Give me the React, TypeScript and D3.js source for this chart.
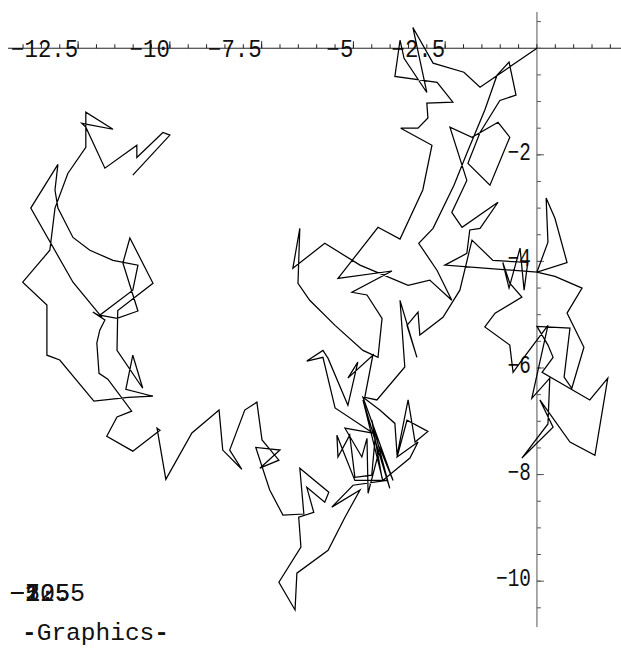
import React from "react";
import * as d3 from "d3";

// Random walk vertices (x, y), in walk order
const walkX = [
  0, -1.55, -1.99, -2.83, -3.38, -3.0, -3.62, -3.73, -3.87, -2.72,
  -2.29, -3.0, -2.97, -3.24, -3.71, -2.86, -3.11, -3.73, -4.33, -5.42,
  -3.95, -5.04, -4.63, -4.22, -4.33, -4.74, -5.5, -6.19, -6.51, -6.46,
  -6.65, -5.78, -4.82, -3.51, -2.92, -2.32, -2.72, -3.22, -2.83, -2.26,
  -1.91, -1.42, -1.09, -0.76, -0.57, -1.01, -1.55, -1.88, -1.28, -0.74,
  -1.06, -1.77, -2.37, -1.91, -2.32, -2.04, -1.06, -1.55, -1.83, -1.91,
  -2.51, 0, 0.3, 0.25, 0.49, 0.82, 0, 0.49, 1.23, 0.82,
  1.28, 0.95, 0.74, 0.9, 0, 0.3, 0.44, 0.14, 1.44, 1.93,
  1.58, 0.9, 0.08, 0.44, -0.41, 0.3, 0.35, -0.14, 0.3, -0.41,
  -0.65, -0.74, -1.42, -1.14, -0.41, -0.74, -0.93, -0.76, -0.46, -0.35,
  -0.25, -1.2, -1.77, -2.1, -2.56, -3.19, -3.24, -3.54, -3.27, -3.73,
  -3.6, -4.36, -4.69, -4.47, -5.15, -4.88, -5.15, -5.69, -5.83, -6.27,
  -5.83, -5.5, -4.47, -5.23, -4.77, -4.63, -4.6, -4.28, -3.92, -4.74,
  -4.28, -3.87, -3.81, -3.51, -3.32, -2.97, -3.54, -3.81, -3.24, -3.46,
  -4.2, -4.74, -4.01, -4.5, -4.22, -4.41, -4.5, -4.96, -5.1, -5.42,
  -5.45, -4.96, -4.09, -5.01, -5.59, -4.82, -5.23, -5.69, -6.54, -6.59,
  -7.03, -6.43, -6.49, -6.08, -6.27, -5.78, -5.67, -6.46, -6.35, -6.92,
  -7.28, -7.66, -7.0, -7.55, -7.03, -7.49, -7.63, -7.96, -8.37, -8.04,
  -8.56, -8.66, -9.4, -10.11, -10.35, -10.27, -11.01, -11.72, -11.44, -11.04,
  -11.69, -11.93, -11.99, -11.91, -11.77, -12.1, -11.85, -12.64, -13.79, -13.05,
  -13.13, -13.05, -12.64, -12.18, -11.55, -10.87, -11.01, -11.91, -11.44, -10.87,
  -11.28, -11.09, -10.46, -11.42, -11.44, -10.74, -11.01, -11.2, -10.46, -11.14,
  -12.07, -13.0, -13.35, -13.35, -14.01, -13.27, -13.13, -12.78, -12.29, -12.29,
  -11.55, -12.4, -12.29, -11.77, -10.9, -10.9, -10.19, -10.0, -11.01,
];

const walkY = [
  0, -0.73, -0.45, -0.28, 0.39, -0.83, -0.19, 0.15, -0.53, -0.64,
  -1.01, -1.03, -1.31, -1.5, -1.5, -1.82, -2.66, -3.58, -3.36, -4.32,
  -4.18, -4.58, -4.63, -5.07, -5.8, -5.67, -5.2, -4.73, -4.41, -3.38,
  -4.13, -3.66, -4.07, -4.45, -4.35, -4.73, -4.17, -3.66, -3.38, -2.57,
  -1.97, -1.16, -0.51, -0.26, -0.88, -0.98, -1.58, -2.16, -2.57, -1.67,
  -1.39, -1.67, -1.48, -2.48, -3.08, -3.36, -2.89, -3.38, -3.41, -3.85,
  -4.07, -4.2, -3.64, -2.81, -3.19, -4.02, -4.2, -4.28, -4.5, -4.97,
  -5.61, -6.38, -6.17, -5.25, -5.22, -5.57, -5.8, -6.08, -6.6, -6.19,
  -7.64, -7.39, -6.6, -7.11, -7.69, -7.05, -6.19, -6.57, -5.2, -5.85,
  -6.08, -5.57, -5.23, -4.97, -4.67, -4.41, -4.02, -4.5, -3.75, -4.54,
  -4.02, -3.98, -3.6, -4.54, -5.05, -5.38, -4.95, -5.2, -5.8, -4.73,
  -5.98, -6.6, -6.55, -5.76, -6.19, -5.89, -6.7, -5.82, -5.67, -5.87,
  -5.8, -6.75, -7.22, -7.13, -7.67, -7.32, -8.35, -7.5, -8.11, -6.55,
  -6.79, -7.04, -7.64, -6.6, -7.39, -7.19, -6.98, -7.67, -7.39, -7.69,
  -8.11, -6.6, -8.26, -6.98, -8.07, -7.32, -8.01, -8.05, -7.26, -7.67,
  -7.26, -8.11, -8.11, -8.2, -8.61, -8.29, -8.8, -9.42, -9.85, -10.54,
  -10.02, -9.36, -8.8, -8.71, -8.24, -8.52, -8.33, -7.88, -8.74, -8.76,
  -8.29, -7.49, -7.54, -7.88, -7.73, -7.35, -6.64, -6.79, -7.54, -7.9,
  -7.54, -6.79, -7.22, -8.09, -7.13, -7.17, -7.56, -7.28, -6.92, -6.81,
  -6.21, -6.1, -5.53, -5.29, -5.1, -4.95, -5.05, -4.39, -3.0, -2.18,
  -2.66, -3.0, -3.55, -3.79, -3.98, -4.07, -4.54, -5.01, -5.07, -4.93,
  -4.03, -3.56, -4.41, -4.92, -5.67, -6.38, -5.76, -6.4, -6.53, -6.55,
  -6.62, -5.85, -5.76, -4.82, -4.39, -3.79, -3.0, -2.35, -1.86, -1.2,
  -1.52, -1.41, -1.48, -2.25, -1.82, -2.05, -1.58, -1.63, -2.38,
];

// Axis ticks
const xMajorTicks = [-12.5, -10, -7.5, -5, -2.5];
const xTickLabels = ["\u221212.5", "\u221210", "\u22127.5", "\u22125", "\u22122.5"];
const yMajorTicks = [-2, -4, -6, -8, -10];
const yTickLabels = ["\u22122", "\u22124", "\u22126", "\u22128", "\u221210"];
const xMinorTicks = d3.range(-14, 2.01, 0.5);
const yMinorTicks = d3.range(0.5, -10.51, -0.5);

const W = 621;
const H = 666;

export default function App() {
  const x = d3.scaleLinear().domain([-14.41, 2.29]).range([8, 621]);
  const y = d3.scaleLinear().domain([0.68, -10.86]).range([12, 627]);

  const pts: [number, number][] = walkX.map((v, i) => [v, walkY[i]]);
  const path = d3
    .line<[number, number]>()
    .x((d) => x(d[0]))
    .y((d) => y(d[1]))(pts) as string;

  const x0 = x(0);
  const y0 = y(0);
  const mono = "'Liberation Mono', 'DejaVu Sans Mono', monospace";

  return (
    <div style={{ position: "absolute", left: 0, top: 0 }}>
      <svg width={W} height={H} style={{ display: "block", background: "#fff" }}>
        {/* axes */}
        <line x1={8} x2={621} y1={y0} y2={y0} stroke="#222" strokeWidth={1} />
        <line x1={x0} x2={x0} y1={12} y2={627} stroke="#555" strokeWidth={1} />
        {xMinorTicks.map((t) => (
          <line key={"xm" + t} x1={x(t)} x2={x(t)} y1={y0} y2={y0 - 4} stroke="#222" strokeWidth={1} />
        ))}
        {xMajorTicks.map((t) => (
          <line key={"xM" + t} x1={x(t)} x2={x(t)} y1={y0} y2={y0 - 7} stroke="#222" strokeWidth={1} />
        ))}
        {yMinorTicks.map((t) => (
          <line key={"ym" + t} x1={x0} x2={x0 + 4} y1={y(t)} y2={y(t)} stroke="#555" strokeWidth={1} />
        ))}
        {yMajorTicks.map((t) => (
          <line key={"yM" + t} x1={x0} x2={x0 + 7} y1={y(t)} y2={y(t)} stroke="#555" strokeWidth={1} />
        ))}
        {xMajorTicks.map((t, i) => (
          <text
            key={"xl" + t}
            x={x(t)}
            y={y0 + 9}
            textAnchor="end"
            fontFamily={mono}
            fontSize={25}
            textLength={xTickLabels[i].length * 13.4}
            lengthAdjust="spacingAndGlyphs"
            fill="#111"
          >
            {xTickLabels[i]}
          </text>
        ))}
        {yMajorTicks.map((t, i) => (
          <text
            key={"yl" + t}
            x={x0 - 6}
            y={y(t) + 5}
            textAnchor="end"
            fontFamily={mono}
            fontSize={25}
            textLength={yTickLabels[i].length * 11.6}
            lengthAdjust="spacingAndGlyphs"
            fill="#111"
          >
            {yTickLabels[i]}
          </text>
        ))}
        {/* walk */}
        <path d={path} fill="none" stroke="#000" strokeWidth={1.25} strokeLinejoin="miter" />
        {/* stacked labels in the lower left */}
        {xTickLabels.map((s) => (
          <text key={"st" + s} x={10} y={601} fontFamily={mono} fontSize={25} fill="#111">
            {s}
          </text>
        ))}
        <text x={22} y={640} fontFamily={mono} fontSize={24.5} fill="#111">
          <tspan fontWeight="bold">-</tspan>Graphics<tspan fontWeight="bold">-</tspan>
        </text>
      </svg>
    </div>
  );
}
